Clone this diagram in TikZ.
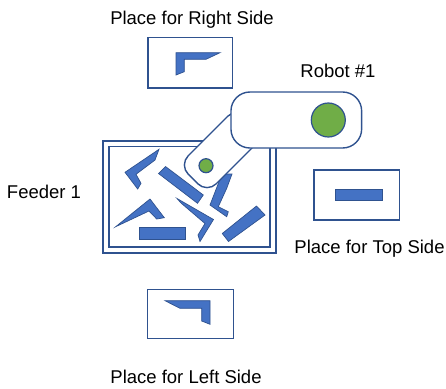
\documentclass[tikz,border=0pt]{standalone}
\usepackage{fontspec}
\setmainfont{Liberation Sans}
\definecolor{partblue}{HTML}{4472C4}
\definecolor{edgeblue}{HTML}{2F528F}
\definecolor{jointgreen}{HTML}{70AD47}
\begin{document}
\begin{tikzpicture}[x=1pt,y=-1pt,
  frame/.style={draw=edgeblue, line width=1.6pt, fill=white, rectangle, inner sep=0pt},
  part/.style={draw=edgeblue, line width=0.7pt, fill=partblue, line join=miter},
  armlink/.style={draw=edgeblue, line width=1.4pt, fill=white, rectangle, inner sep=0pt},
  joint/.style={draw=edgeblue, line width=1.2pt, fill=jointgreen, circle, inner sep=0pt},
  caption/.style={font=\fontsize{18.5}{22}\selectfont, anchor=base, text=black, inner sep=0pt}]
\useasboundingbox (0,0) rectangle (446,388);

% target places
\node[frame, minimum width=84.7pt, minimum height=50.4pt] (rightplace) at (190.3,62.5) {};
\node[frame, minimum width=85.3pt, minimum height=50pt] (topplace) at (356.7,195) {};
\node[frame, minimum width=86pt, minimum height=49pt] (leftplace) at (190.3,313.8) {};

% feeder frame
\node[frame, minimum width=173pt, minimum height=112pt] (feederouter) at (189.5,197) {};
\node[frame, minimum width=161pt, minimum height=100.5pt] (feederinner) at (189.5,196.75) {};

% parts placed on the target places
\draw[part] (176,52.7) -- (220,52.7) -- (206,59.3) -- (184.3,59.3) -- (184.3,71.7) -- (176,75) -- cycle;
\draw[part] (335.7,189.3) rectangle (382.3,200.7);
\draw[part] (165,300.7) -- (210,300.7) -- (210,324.3) -- (201.7,321) -- (201.7,308.3) -- (180,308.3) -- cycle;

% loose parts in the feeder
\draw[part] (159,149.3) -- (125,172.3) -- (137.7,189) -- (141,183.3) -- (136,174.3) -- (155,160) -- cycle;
\draw[part] (158.5,173.5) -- (165.5,166.5) -- (203.3,195) -- (197.5,203.3) -- cycle;
\draw[part] (150,199) -- (164.3,217.7) -- (156.7,219) -- (149,211) -- (115.7,226.7) -- cycle;
\draw[part] (139,227.7) rectangle (185,239.3);
\draw[part] (177,198.5) -- (213.5,219.5) -- (200,241.5) -- (198,235) -- (205,223.5) -- (181,203) -- cycle;
\draw[part] (222,174) -- (232,174) -- (226.7,188.3) -- (218.3,206.7) -- (228.3,211.7) -- (226.7,216.7) -- (210,205) -- cycle;
\draw[part] (222.3,233.5) -- (256.5,206) -- (265,215) -- (228.5,241.5) -- cycle;

% robot arm
\node[armlink, rounded corners=13pt, minimum width=82pt, minimum height=39.6pt, rotate=45] (forearm) at (222,150) {};
\node[joint, minimum size=14pt] (wrist) at (206,165.7) {};
\node[armlink, rounded corners=19pt, minimum width=130.7pt, minimum height=56pt] (upperarm) at (296.3,120) {};
\node[joint, minimum size=34pt] (shoulder) at (328.3,120) {};

% captions
\node[caption] (rightlabel) at (192,24.5) {Place for Right Side};
\node[caption] (robotlabel) at (338,77.5) {Robot \#1};
\node[caption] (feederlabel) at (44,198) {Feeder 1};
\node[caption] (toplabel) at (369.5,253) {Place for Top Side};
\node[caption] (leftlabel) at (186,383) {Place for Left Side};
\end{tikzpicture}
\end{document}
